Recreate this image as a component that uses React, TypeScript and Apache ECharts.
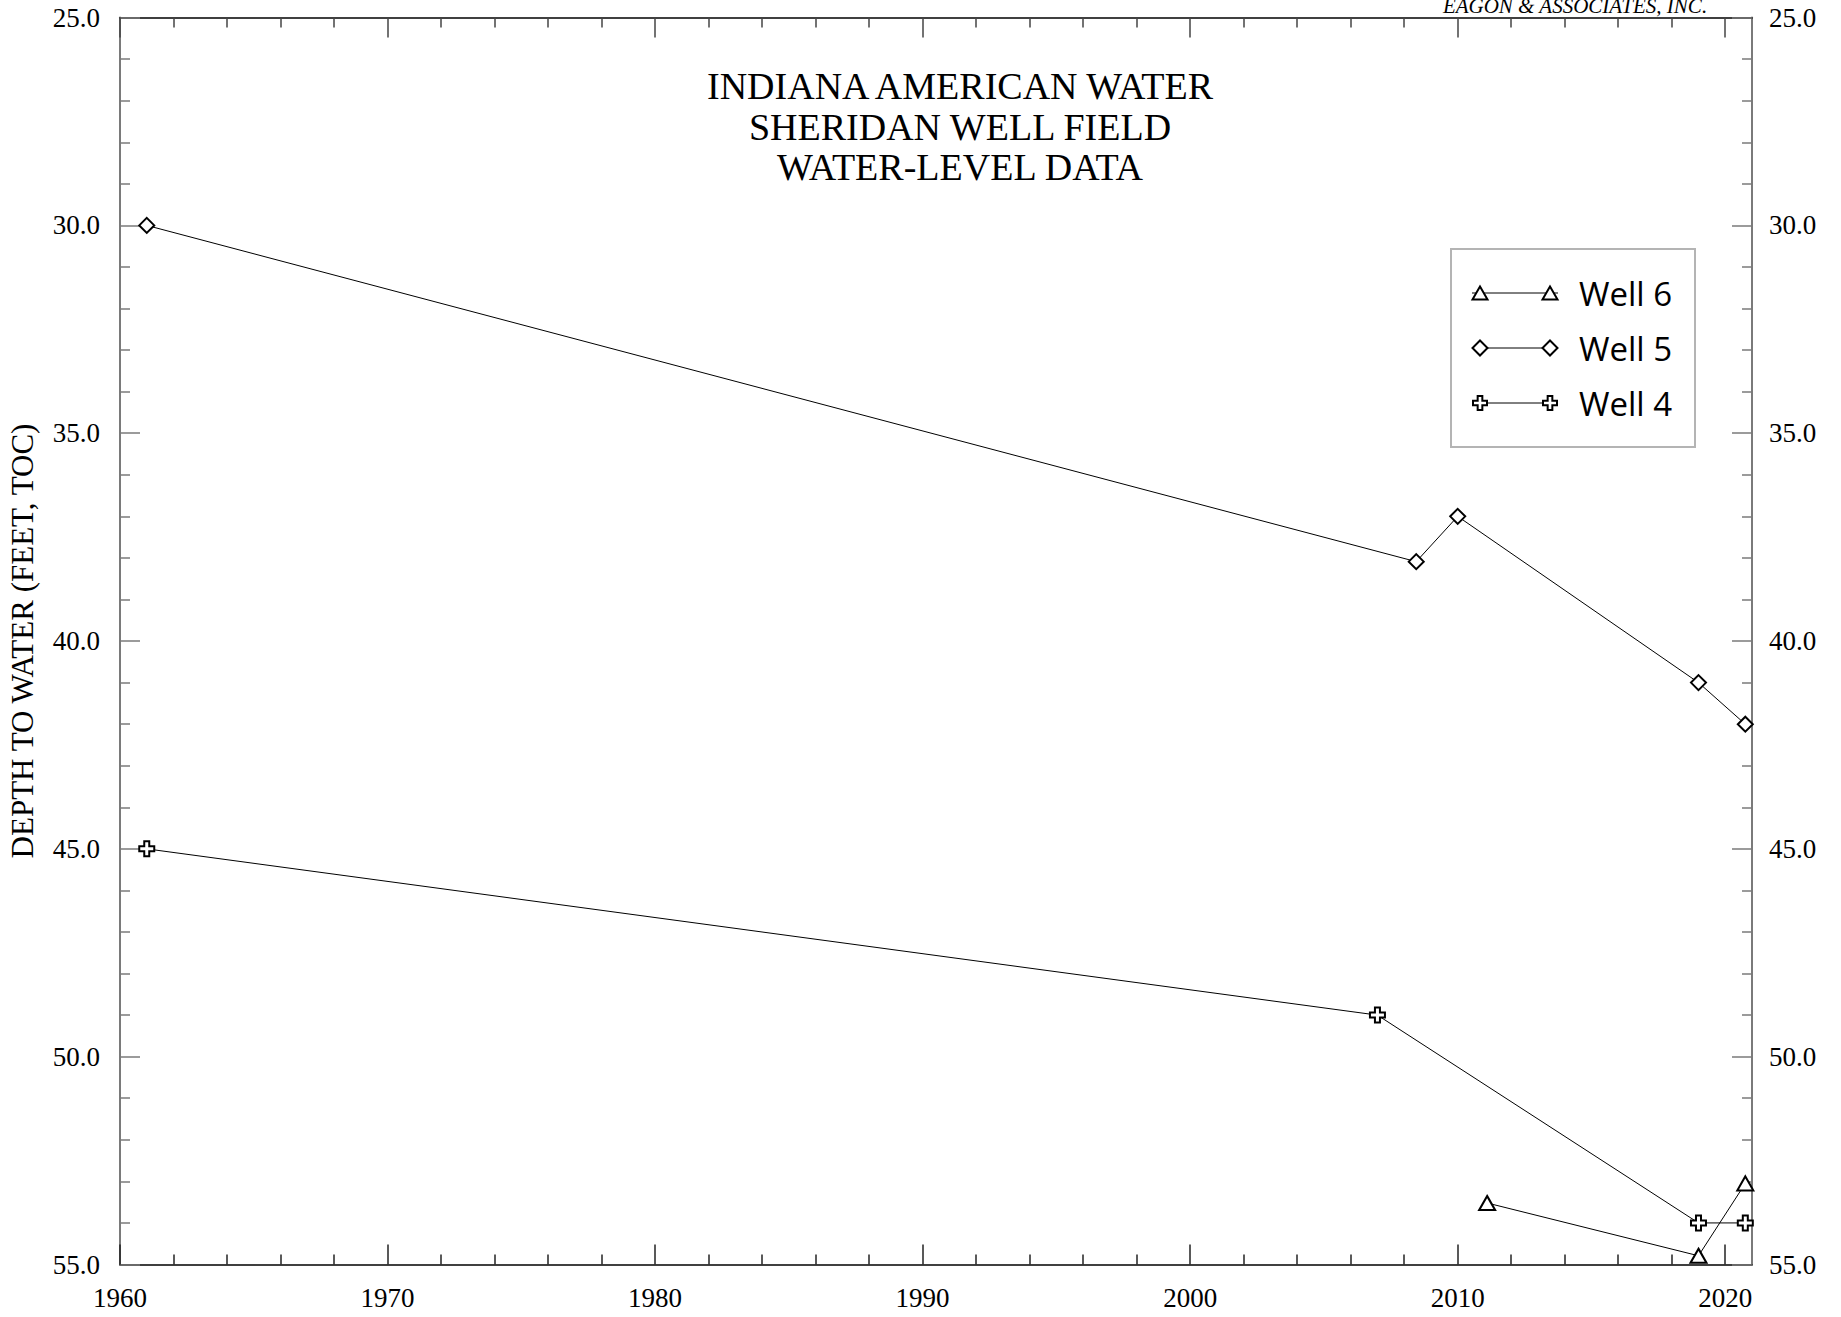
import React, { useEffect, useRef } from "react";
import * as echarts from "echarts";

// ---- data ----
const well6Years = [2011.1, 2019.0, 2020.75];
const well6Depth = [53.52, 54.79, 53.05];
const well5Years = [1961.0, 2008.45, 2010.0, 2019.0, 2020.75];
const well5Depth = [30.0, 38.09, 37.0, 41.0, 42.0];
const well4Years = [1961.0, 2007.0, 2019.0, 2020.75];
const well4Depth = [45.0, 49.0, 54.0, 54.0];

const xMajorTicks = [1960, 1970, 1980, 1990, 2000, 2010, 2020];
const xMinorTicks = [
  1962, 1964, 1966, 1968, 1972, 1974, 1976, 1978, 1982, 1984, 1986, 1988,
  1992, 1994, 1996, 1998, 2002, 2004, 2006, 2008, 2012, 2014, 2016, 2018,
];
const seriesNames = ["Well 6", "Well 5", "Well 4"];
const titleLines = ["INDIANA AMERICAN WATER", "SHERIDAN WELL FIELD", "WATER-LEVEL DATA"];
const yAxisTitle = "DEPTH TO WATER (FEET, TOC)";
const creditText = "EAGON & ASSOCIATES, INC.";

const SERIF = "'Liberation Serif', 'Times New Roman', serif";
const PLUS_PATH =
  "path://M-1,-3L1,-3L1,-1L3,-1L3,1L1,1L1,3L-1,3L-1,1L-3,1L-3,-1L-1,-1Z";

function pair(xs: number[], ys: number[]) {
  return xs.map((x, i) => [x, ys[i]]);
}

function triPts(cx: number, cy: number, w: number, h: number) {
  return [
    [cx, cy - h / 2],
    [cx + w / 2, cy + h / 2],
    [cx - w / 2, cy + h / 2],
  ];
}
function diaPts(cx: number, cy: number, s: number) {
  const r = s / 2;
  return [
    [cx, cy - r],
    [cx + r, cy],
    [cx, cy + r],
    [cx - r, cy],
  ];
}
function plusPts(cx: number, cy: number, s: number) {
  const u = s / 6;
  const p = [
    [-1, -3], [1, -3], [1, -1], [3, -1], [3, 1], [1, 1],
    [1, 3], [-1, 3], [-1, 1], [-3, 1], [-3, -1], [-1, -1],
  ];
  return p.map(([a, b]) => [cx + a * u, cy + b * u]);
}

export default function App() {
  const ref = useRef<HTMLDivElement>(null);

  useEffect(() => {
    if (!ref.current) return;
    const chart = echarts.init(ref.current, undefined, { renderer: "svg" });

    const symStyle = { color: "#ffffff", borderColor: "#000000", borderWidth: 2 };
    const lineStyle = { color: "#000000", width: 1 };

    const xAxisBase = {
      type: "value",
      min: 1960,
      max: 2021,
      gridIndex: 0,
      splitLine: { show: false },
    };
    const yAxisBase = {
      type: "value",
      min: 25,
      max: 55,
      interval: 5,
      inverse: true,
      axisLine: { show: true, onZero: false, lineStyle: { color: "#7a7a7a", width: 2 } },
      axisTick: { show: true, inside: true, length: 20, lineStyle: { color: "#7a7a7a", width: 1.5 } },
      minorTick: { show: true, splitNumber: 5, length: 10, lineStyle: { color: "#7a7a7a", width: 1.5 } },
      splitLine: { show: false },
      minorSplitLine: { show: false },
    };

    const legendItems: any[] = [];
    const legendYs = [293, 348, 403];
    const sx1 = 1480;
    const sx2 = 1550;
    const sStyle = { fill: "#ffffff", stroke: "#000000", lineWidth: 2 };
    legendItems.push({
      type: "rect",
      shape: { x: 1451, y: 249, width: 244, height: 198 },
      style: { fill: "#ffffff", stroke: "#b4b4b4", lineWidth: 2 },
      z: 100,
    });
    seriesNames.forEach((name, i) => {
      const y = legendYs[i];
      legendItems.push({
        type: "line",
        shape: { x1: 1472, y1: y, x2: 1558, y2: y },
        style: { stroke: "#000000", lineWidth: 1 },
        z: 101,
      });
      [sx1, sx2].forEach((sx) => {
        let pts: number[][];
        if (i === 0) pts = triPts(sx, y, 15, 13);
        else if (i === 1) pts = diaPts(sx, y, 15);
        else pts = plusPts(sx, y, 14);
        legendItems.push({
          type: "polygon",
          shape: { points: pts },
          style: sStyle,
          z: 102,
        });
      });
      legendItems.push({
        type: "text",
        x: 1579,
        y: y,
        style: {
          text: name,
          fontFamily: "'Open Sans', 'Noto Sans', sans-serif",
          fontSize: 33,
          fill: "#000000",
          textAlign: "left",
          textVerticalAlign: "middle",
        },
        z: 102,
      });
    });

    const option: any = {
      animation: false,
      backgroundColor: "#ffffff",
      title: {
        text: titleLines.join("\n"),
        left: 955,
        top: 61,
        textAlign: "center",
        textStyle: {
          fontFamily: SERIF,
          fontSize: 38,
          fontWeight: "normal",
          lineHeight: 40.5,
          color: "#000000",
        },
      },
      grid: { left: 120, right: 89, top: 17.6, bottom: 52.5, containLabel: false },
      xAxis: [
        {
          ...xAxisBase,
          position: "bottom",
          axisLine: { show: true, onZero: false, lineStyle: { color: "#000000", width: 1.5 } },
          axisTick: {
            show: true,
            inside: true,
            length: 20,
            customValues: xMajorTicks,
            lineStyle: { color: "#222222", width: 1.5 },
          },
          axisLabel: {
            show: true,
            customValues: xMajorTicks,
            margin: 20,
            fontFamily: SERIF,
            fontSize: 27,
            color: "#000000",
            formatter: (v: number) => String(Math.round(v)),
          },
        },
        {
          ...xAxisBase,
          position: "bottom",
          axisLine: { show: false, onZero: false },
          axisTick: {
            show: true,
            inside: true,
            length: 10,
            customValues: xMinorTicks,
            lineStyle: { color: "#222222", width: 1.5 },
          },
          axisLabel: { show: false },
        },
        {
          ...xAxisBase,
          position: "top",
          axisLine: { show: true, onZero: false, lineStyle: { color: "#000000", width: 1.5 } },
          axisTick: {
            show: true,
            inside: true,
            length: 20,
            customValues: xMajorTicks,
            lineStyle: { color: "#444444", width: 1.5 },
          },
          axisLabel: { show: false },
        },
        {
          ...xAxisBase,
          position: "top",
          axisLine: { show: false, onZero: false },
          axisTick: {
            show: true,
            inside: true,
            length: 10,
            customValues: xMinorTicks,
            lineStyle: { color: "#444444", width: 1.5 },
          },
          axisLabel: { show: false },
        },
      ],
      yAxis: [
        {
          ...yAxisBase,
          position: "left",
          axisLabel: {
            show: true,
            margin: 20,
            fontFamily: SERIF,
            fontSize: 27,
            color: "#000000",
            formatter: (v: number) => v.toFixed(1),
          },
        },
        {
          ...yAxisBase,
          position: "right",
          axisLabel: {
            show: true,
            margin: 17,
            fontFamily: SERIF,
            fontSize: 27,
            color: "#000000",
            formatter: (v: number) => v.toFixed(1),
          },
        },
      ],
      series: [
        {
          name: seriesNames[0],
          type: "line",
          xAxisIndex: 0,
          yAxisIndex: 0,
          data: pair(well6Years, well6Depth),
          symbol: "triangle",
          symbolSize: [16, 14],
          itemStyle: symStyle,
          lineStyle,
          z: 3,
        },
        {
          name: seriesNames[1],
          type: "line",
          xAxisIndex: 0,
          yAxisIndex: 0,
          data: pair(well5Years, well5Depth),
          symbol: "diamond",
          symbolSize: 15,
          itemStyle: symStyle,
          lineStyle,
          z: 3,
        },
        {
          name: seriesNames[2],
          type: "line",
          xAxisIndex: 0,
          yAxisIndex: 0,
          data: pair(well4Years, well4Depth),
          symbol: PLUS_PATH,
          symbolSize: 15,
          symbolKeepAspect: true,
          itemStyle: symStyle,
          lineStyle,
          z: 3,
        },
      ],
      graphic: [
        {
          type: "text",
          x: 22,
          y: 641,
          rotation: Math.PI / 2,
          style: {
            text: yAxisTitle,
            fontFamily: SERIF,
            fontSize: 31,
            fill: "#000000",
            textAlign: "center",
            textVerticalAlign: "middle",
          },
        },
        {
          type: "text",
          x: 1575,
          y: 6,
          style: {
            text: creditText,
            fontFamily: SERIF,
            fontStyle: "italic",
            fontSize: 21,
            fill: "#000000",
            textAlign: "center",
            textVerticalAlign: "middle",
          },
        },
        ...legendItems,
      ],
    };

    chart.setOption(option);
    return () => {
      chart.dispose();
    };
  }, []);

  return (
    <div
      ref={ref}
      style={{ position: "absolute", left: 0, top: 0, width: 1841, height: 1317 }}
    />
  );
}
